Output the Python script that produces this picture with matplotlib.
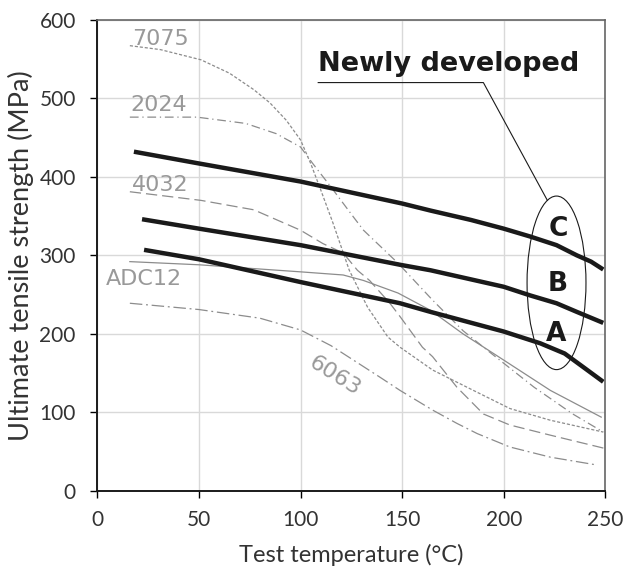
import numpy as np
import matplotlib
matplotlib.use('Agg')
import matplotlib.pyplot as plt
from matplotlib.patches import Ellipse

# newly developed alloys
a_x = [23, 50, 100, 149, 164, 200, 218, 230, 239, 249]
a_y = [307, 295, 266, 239, 228, 203, 188, 175, 158, 139]
b_x = [22, 50, 100, 149, 164, 200, 213, 226, 236, 249]
b_y = [346, 334, 313, 288, 281, 260, 249, 239, 228, 214]
c_x = [18, 50, 100, 150, 164, 184, 200, 213, 226, 236, 243, 249]
c_y = [432, 417, 394, 366, 357, 345, 334, 324, 313, 300, 292, 282]

# conventional alloys
x7075 = [16, 31, 51, 65, 77, 85, 93, 100, 105, 110, 116, 124, 133, 143, 149, 165, 182, 203, 223, 249]
y7075 = [567, 562, 549, 532, 511, 494, 472, 447, 417, 383, 341, 281, 234, 196, 183, 154, 132, 105, 90, 75]
x2024 = [16, 49, 73, 88, 100, 106, 115, 126, 131, 148, 165, 180, 192, 215, 234, 249]
y2024 = [476, 476, 468, 455, 438, 417, 387, 349, 332, 290, 243, 204, 179, 132, 98, 75]
x4032 = [16, 51, 77, 100, 111, 121, 128, 134, 144, 149, 160, 165, 177, 190, 203, 223, 250]
y4032 = [381, 370, 358, 332, 315, 303, 281, 268, 239, 222, 183, 171, 132, 98, 84, 71, 54]
xadc = [16, 50, 100, 121, 131, 148, 164, 180, 198, 223, 248]
yadc = [292, 288, 279, 275, 268, 252, 230, 200, 170, 128, 94]
x6063 = [16, 50, 80, 100, 115, 121, 139, 149, 165, 177, 187, 203, 223, 246]
y6063 = [239, 231, 220, 205, 185, 175, 145, 128, 103, 86, 73, 56, 43, 33]

gray = '#8c8c8c'
tgray = '#999999'
dark = '#1a1a1a'
lab_font = 'Lato'

fig = plt.figure(figsize=(6.24, 5.81), dpi=100)
ax = fig.add_axes([0.156, 0.155, 0.814, 0.811])

kw = dict(color=gray, lw=0.9, solid_joinstyle='round', dash_joinstyle='round')
ax.plot(x7075, y7075, ls=(0, (2.5, 1.5)), **kw)
ax.plot(x2024, y2024, ls=(0, (7, 3, 1, 3)), **kw)
ax.plot(x4032, y4032, ls=(0, (9, 4)), **kw)
ax.plot(xadc, yadc, **kw)
ax.plot(x6063, y6063, ls=(0, (10, 3, 1.5, 3)), **kw)

for xs, ys in [(a_x, a_y), (b_x, b_y), (c_x, c_y)]:
    ax.plot(xs, ys, color=dark, lw=3.2, solid_capstyle='butt', solid_joinstyle='round')

ax.text(31, 576, '7075', color=tgray, fontsize=16, ha='center', va='center')
ax.text(30, 492, '2024', color=tgray, fontsize=16, ha='center', va='center')
ax.text(31, 390, '4032', color=tgray, fontsize=16, ha='center', va='center')
ax.text(23, 270, 'ADC12', color=tgray, fontsize=16, ha='center', va='center')
ax.text(117, 147, '6063', color=tgray, fontsize=16, ha='center', va='center', rotation=-32)

ax.text(226.8, 333, 'C', fontsize=19, fontweight='bold', color=dark, ha='center', va='center')
ax.text(226.8, 263, 'B', fontsize=19, fontweight='bold', color=dark, ha='center', va='center')
ax.text(226, 200, 'A', fontsize=19, fontweight='bold', color=dark, ha='center', va='center')

ax.add_patch(Ellipse((226, 265), 29, 221, fill=False, ec=dark, lw=0.8))
ax.plot([108.7, 190, 221.5], [520, 520, 370], color=dark, lw=0.8)
ax.text(108.7, 527, 'Newly developed', fontsize=19.5, fontweight='bold', color=dark,
        ha='left', va='bottom')

ax.set_xlim(0, 250)
ax.set_ylim(0, 600)
ax.set_xticks(np.arange(0, 251, 50))
ax.set_yticks(np.arange(0, 601, 100))
ax.grid(True, color='#d9d9d9', lw=1)
ax.set_axisbelow(True)
ax.tick_params(axis='y', length=5, width=1, direction='out', pad=10.5)
ax.tick_params(axis='x', length=5, width=1, direction='out', pad=9)
for lbl in ax.get_xticklabels() + ax.get_yticklabels():
    lbl.set_fontfamily(lab_font)
    lbl.set_fontsize(15)
    lbl.set_color('#333333')
for s in ['top', 'right']:
    ax.spines[s].set_color('#666666')
    ax.spines[s].set_linewidth(1.2)
for s in ['left', 'bottom']:
    ax.spines[s].set_color(dark)
    ax.spines[s].set_linewidth(1.4)

ax.set_xlabel('Test temperature (°C)', fontsize=17, family=lab_font, color='#333333', labelpad=10)
ax.set_ylabel('Ultimate tensile strength (MPa)', fontsize=19.5, family=lab_font, color='#333333',
              labelpad=4)

plt.savefig('out.png', dpi=100)
